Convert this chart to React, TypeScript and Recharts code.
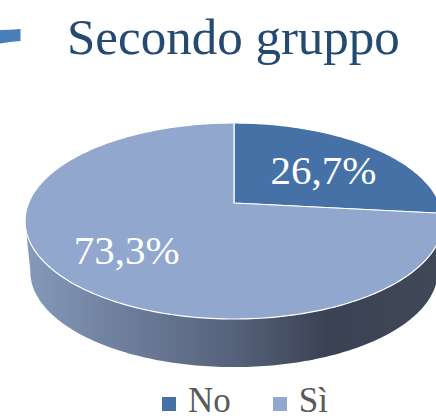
import React from "react"
import { PieChart, Pie, Cell, Legend } from "recharts"

const categories = ["No", "Sì"]
const values = [26.7, 73.3]
const COLORS = ["#4671A6", "#92A7CE"]

const data = categories.map((name, i) => ({ name, value: values[i] }))

const CX = 234
const CY = 203

// perspective disc: circle point -> screen point
const project = (thetaDeg: number, r = 1, bottom = false) => {
  const t = (thetaDeg * Math.PI) / 180
  const u = Math.sin(t) * r
  const v = -Math.cos(t) * r
  const den = 1 - 0.1837 * v
  const x = (205.4 * u) / den
  const y = (94.7 * v) / den
  if (bottom) return [CX + x * 0.975, 254 + y * 0.975]
  return [CX + x, CY + y]
}

const arcPoints = (from: number, to: number, bottom = false) => {
  const pts: number[][] = []
  const n = Math.max(2, Math.ceil(Math.abs(to - from)))
  for (let i = 0; i <= n; i++) pts.push(project(from + ((to - from) * i) / n, 1, bottom))
  return pts
}

const toPath = (pts: number[][]) =>
  pts.map((p, i) => `${i ? "L" : "M"}${p[0].toFixed(2)},${p[1].toFixed(2)}`).join(" ")

const DiscSlice = (props: any) => {
  const from = 90 - props.startAngle
  const to = 90 - props.endAngle
  // only the front of the rim shows a wall, between the two tangent points
  const wallFrom = Math.max(from, 100)
  const wallTo = Math.min(to, 260)
  const rim = arcPoints(from, to)
  return (
    <g>
      {wallTo > wallFrom && (
        <path
          d={toPath([...arcPoints(wallFrom, wallTo), ...arcPoints(wallFrom, wallTo, true).reverse()]) + " Z"}
          fill="url(#wall)"
        />
      )}
      <path
        d={`M${CX},${CY} ` + toPath(rim).replace(/^M/, "L") + " Z"}
        fill={props.fill}
        stroke="#fff"
        strokeWidth={1.2}
        strokeLinejoin="round"
      />
    </g>
  )
}

const renderLabel = (props: any) => {
  const [x, y] = project(90 - props.midAngle, 0.63)
  return (
    <text
      x={props.value > 50 ? x - 3 : x}
      y={y + 4}
      textAnchor="middle"
      dominantBaseline="central"
      fill="#fff"
      fontSize={41}
      fontFamily="'Liberation Serif', serif"
    >
      {props.value.toFixed(1).replace(".", ",")}%
    </text>
  )
}

export default function App() {
  return (
    <div style={{ position: "absolute", left: 0, top: 0, width: 436, height: 416, overflow: "hidden", background: "#fff" }}>
      <PieChart width={436} height={416} margin={{ top: 0, right: 0, bottom: 0, left: 0 }}>
        <defs>
          <linearGradient id="wall" gradientUnits="userSpaceOnUse" x1={30} y1={0} x2={436} y2={0}>
            <stop offset="0%" stopColor="#8498B9" />
            <stop offset="25%" stopColor="#6C7C99" />
            <stop offset="50%" stopColor="#56627B" />
            <stop offset="73%" stopColor="#3B4253" />
            <stop offset="100%" stopColor="#404757" />
          </linearGradient>
        </defs>
        <path d="M0,30 Q10,30 20.5,29 L20.5,41 Q10,41.5 0,43.5 Z" fill="#4A7EBB" />
        <text x={67} y={54} fontSize={51} fill="#254A70" fontFamily="'Liberation Serif', serif">
          Secondo gruppo
        </text>
        <Pie
          data={data}
          dataKey="value"
          nameKey="name"
          cx={CX}
          cy={CY}
          outerRadius={100}
          startAngle={90}
          endAngle={-270}
          shape={DiscSlice}
          label={renderLabel}
          labelLine={false}
          isAnimationActive={false}
        >
          {data.map((d, i) => (
            <Cell key={d.name} fill={COLORS[i]} />
          ))}
        </Pie>
        <Legend
          iconType="square"
          iconSize={14}
          layout="horizontal"
          align="left"
          wrapperStyle={{ left: 162, top: 381, width: 240, fontSize: 35, fontFamily: "'Liberation Serif', serif", lineHeight: "40px" }}
          formatter={(value: string) => (
            <span style={{ color: "#595959", marginLeft: 8, marginRight: 32 }}>{value}</span>
          )}
        />
      </PieChart>
    </div>
  )
}
